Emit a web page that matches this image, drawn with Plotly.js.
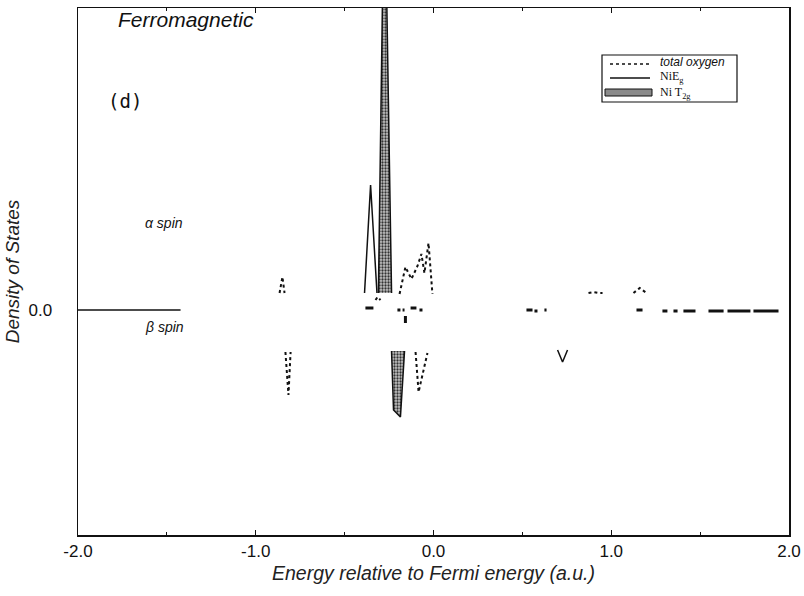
<!DOCTYPE html>
<html>
<head>
<meta charset="utf-8">
<script src="https://cdn.plot.ly/plotly-3.0.1.min.js"></script>
<style>
  html, body { margin: 0; padding: 0; background: #fff; }
  #dos { width: 804px; height: 596px; }
</style>
</head>
<body>
<div id="dos"></div>
<script>
// Ferromagnetic NiO: projected density of states (alpha above zero, beta below).
// Energies in a.u. relative to the Fermi level; null separates plotted segments.

const xTicks = [-2, -1, 0, 1, 2];
const xTickText = ['-2.0', '-1.0', '0.0', '1.0', '2.0'];
const yTicks = [0];
const yTickText = ['0.0'];

// total oxygen (dotted)
const oxygenE = [
  -0.866, -0.850, -0.838, null,
  -0.326, -0.315, -0.298, null,
  -0.191, -0.158, -0.124, -0.090, -0.068, -0.051, -0.028, -0.006, null,
  0.872, 0.90, 0.93, 0.951, null,
  1.125, 1.16, 1.198, null,
  -0.833, -0.816, -0.804, null,
  -0.101, -0.084, -0.034
];
const oxygenDos = [
  0.17, 0.33, 0.17, null,
  0.10, 0.13, 0.10, null,
  0.16, 0.43, 0.31, 0.44, 0.56, 0.37, 0.67, 0.16, null,
  0.17, 0.18, 0.17, 0.17, null,
  0.17, 0.22, 0.17, null,
  -0.42, -0.85, -0.42, null,
  -0.42, -0.82, -0.43
];

// Ni Eg (solid)
const niEgE = [
  -2.0, -1.423, null,
  -0.388, -0.354, -0.318, null,
  0.698, 0.726, 0.754
];
const niEgDos = [
  0, 0, null,
  0.17, 1.25, 0.17, null,
  -0.40, -0.52, -0.40
];

// Ni T2g (shaded)
const niT2gE = [
  -0.310, -0.276, -0.236, null,
  -0.236, -0.225, -0.186, -0.163
];
const niT2gDos = [
  0.17, 4.5, 0.17, null,
  -0.41, -1.00, -1.07, -0.41
];

// short fragments sitting on the zero level
const zeroE = [
  -0.383, -0.338, null, -0.203, -0.186, null, -0.174, -0.163, null,
  -0.129, -0.096, null, -0.079, -0.062, null, -0.158, -0.158, null,
  0.523, 0.557, null, 0.568, 0.585, null, 0.624, 0.636, null,
  1.142, 1.176, null, 1.288, 1.316, null, 1.350, 1.373, null,
  1.406, 1.474, null, 1.547, 1.632, null, 1.654, 1.783, null,
  1.800, 1.941
];
const zeroDos = [
  0.02, 0.02, null, 0.0, 0.0, null, 0.0, 0.0, null,
  0.02, 0.02, null, 0.0, 0.0, null, -0.06, -0.13, null,
  0.0, 0.0, null, -0.01, -0.01, null, 0.0, 0.0, null,
  0.0, 0.0, null, -0.01, -0.01, null, -0.01, -0.01, null,
  -0.01, -0.01, null, -0.01, -0.01, null, -0.01, -0.01, null,
  -0.01, -0.01
];

// legend entries
const legendLabels = ['<i>total oxygen</i>', 'NiE<sub>g</sub>', 'Ni T<sub>2g</sub>'];

const sans = 'Liberation Sans, Arial, sans-serif';
const serif = 'Liberation Serif, Times New Roman, serif';
const ink = '#111';

const traces = [
  {
    x: oxygenE, y: oxygenDos, type: 'scatter', mode: 'lines', name: 'total oxygen',
    line: { color: ink, width: 2, dash: 'dot' }, connectgaps: false
  },
  {
    x: niEgE, y: niEgDos, type: 'scatter', mode: 'lines', name: 'NiEg',
    line: { color: ink, width: 1.5 }, connectgaps: false
  },
  {
    x: niT2gE, y: niT2gDos, type: 'scatter', mode: 'lines', name: 'Ni T2g',
    fill: 'toself', fillcolor: '#9a9a9a',
    fillpattern: { shape: '.', fgcolor: '#333', bgcolor: '#c4c4c4', size: 3, solidity: 0.45 },
    line: { color: ink, width: 1.5 }, connectgaps: false
  },
  {
    x: zeroE, y: zeroDos, type: 'scatter', mode: 'lines', name: 'zero level',
    line: { color: ink, width: 3 }, connectgaps: false
  }
];

// paper fractions for the boxed key and the free labels
const px = v => (v - 78) / 711;
const py = v => (535 - v) / 527;

const keyShapes = [
  { type: 'rect', xref: 'paper', yref: 'paper', x0: px(602), x1: px(737), y0: py(102), y1: py(55),
    line: { color: ink, width: 1.2 }, fillcolor: '#fff' },
  { type: 'line', xref: 'paper', yref: 'paper', x0: px(610), x1: px(649), y0: py(64), y1: py(64),
    line: { color: ink, width: 1.6, dash: 'dot' } },
  { type: 'line', xref: 'paper', yref: 'paper', x0: px(610), x1: px(650), y0: py(78), y1: py(78),
    line: { color: ink, width: 1.3 } },
  { type: 'rect', xref: 'paper', yref: 'paper', x0: px(605), x1: px(652), y0: py(96), y1: py(89),
    line: { color: ink, width: 1 }, fillcolor: '#8a8a8a' }
];

const keyText = [
  { text: legendLabels[0], y: py(62.5), font: { family: sans, size: 12, color: ink } },
  { text: legendLabels[1], y: py(77.5), font: { family: serif, size: 12, color: ink } },
  { text: legendLabels[2], y: py(92.5), font: { family: serif, size: 12, color: ink } }
].map(a => Object.assign({ xref: 'paper', yref: 'paper', x: px(658), xanchor: 'left',
                           yanchor: 'middle', showarrow: false }, a));

const layout = {
  width: 804, height: 596,
  margin: { l: 78, r: 15, t: 8, b: 61 },
  paper_bgcolor: '#fff', plot_bgcolor: '#fff',
  showlegend: false,
  xaxis: {
    range: [-2, 2],
    tickvals: xTicks, ticktext: xTickText,
    ticks: 'inside', ticklen: 5, tickcolor: ink,
    minor: { tickvals: [-1.5, -0.5, 0.5, 1.5], ticks: 'inside', ticklen: 3, tickcolor: ink },
    showline: true, linecolor: ink, linewidth: 1.5, mirror: 'ticks',
    showgrid: false, zeroline: false,
    tickfont: { family: sans, size: 17, color: ink },
    title: { text: '<i>Energy relative to Fermi energy (a.u.)</i>',
             font: { family: sans, size: 19.5, color: '#222' }, standoff: 6 }
  },
  yaxis: {
    range: [-2.25, 3.02],
    tickvals: yTicks, ticktext: yTickText,
    ticks: '', ticklabelstandoff: 21,
    showline: true, linecolor: ink, linewidth: 1.5, mirror: true,
    showgrid: false, zeroline: false,
    tickfont: { family: sans, size: 17, color: ink },
    title: { text: '<i>Density of States</i>',
             font: { family: sans, size: 19, color: '#222' }, standoff: 4 }
  },
  shapes: keyShapes,
  annotations: keyText.concat([
    { text: '<i>Ferromagnetic</i>', xref: 'paper', yref: 'paper',
      x: px(116), y: py(19), xanchor: 'left', yanchor: 'middle', showarrow: false,
      font: { family: sans, size: 21, color: ink } },
    { text: '(d)', xref: 'paper', yref: 'paper',
      x: px(106), y: py(101), xanchor: 'left', yanchor: 'middle', showarrow: false,
      font: { family: 'DejaVu Sans Mono, monospace', size: 19, color: ink } },
    { text: '<i>α spin</i>', xref: 'paper', yref: 'paper',
      x: px(143), y: py(223), xanchor: 'left', yanchor: 'middle', showarrow: false,
      font: { family: sans, size: 14, color: ink } },
    { text: '<i>β spin</i>', xref: 'paper', yref: 'paper',
      x: px(143), y: py(327), xanchor: 'left', yanchor: 'middle', showarrow: false,
      font: { family: sans, size: 14, color: ink } }
  ])
};

Plotly.newPlot('dos', traces, layout, { displayModeBar: false, staticPlot: true });
</script>
</body>
</html>
